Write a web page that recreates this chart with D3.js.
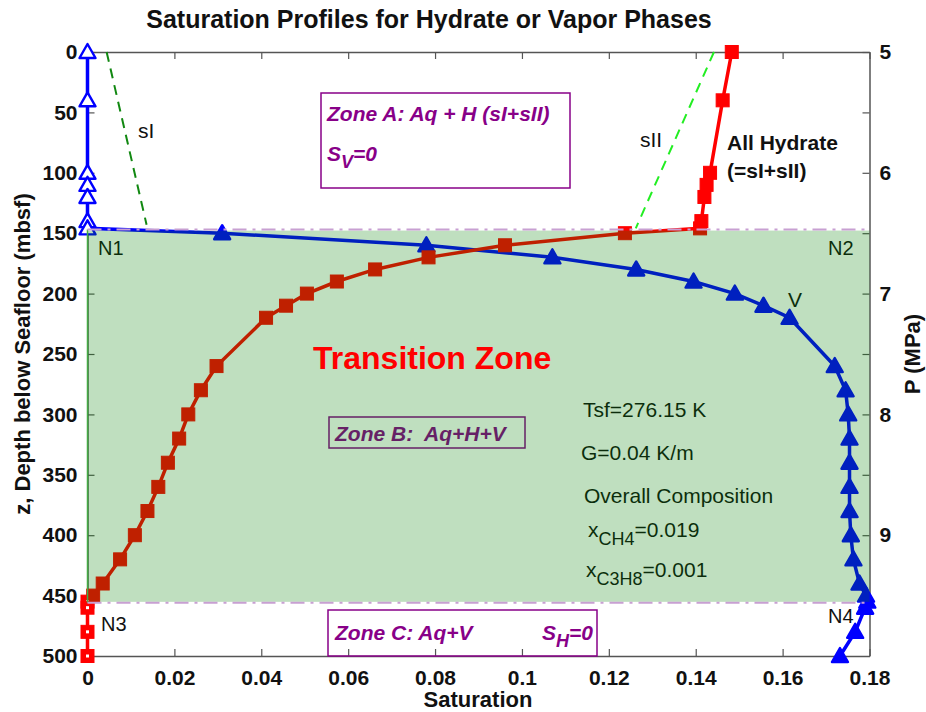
<!DOCTYPE html>
<html>
<head>
<meta charset="utf-8">
<script src="https://cdn.jsdelivr.net/npm/d3@7"></script>
<style>
  body { margin: 0; background: #fff; }
  text { font-family: "Liberation Sans", Arial, sans-serif; }
</style>
</head>
<body>
<svg id="chart" width="926" height="712"></svg>
<script>
// Depth grid (mbsf) shared by both profiles
var depthM = [0, 40, 100, 110, 120, 140, 146, 150, 160, 170, 180, 190, 200, 210, 220,
  260, 280, 300, 320, 340, 360, 380, 400, 420, 440, 450, 455, 460, 480, 500];
// Hydrate saturation (sI+sII)
var satHydrate = [0.1483, 0.1462, 0.1433, 0.1425, 0.1420, 0.1413, 0.1410, 0.1237, 0.0961, 0.0785,
  0.0662, 0.0574, 0.0505, 0.0457, 0.0411, 0.0297, 0.0261, 0.0232, 0.0211, 0.0185,
  0.0163, 0.0138, 0.0109, 0.0075, 0.0035, 0.0013, 0, 0, 0, 0];
// Vapor saturation
var satVapor = [0, 0, 0, 0, 0, 0, 0, 0.031, 0.078, 0.107, 0.1263, 0.1395, 0.149, 0.1556, 0.1616,
  0.172, 0.1745, 0.1751, 0.1754, 0.1754, 0.1754, 0.1754, 0.1757, 0.1763, 0.1777,
  0.1792, 0.1795, 0.179, 0.1767, 0.1732];
// sI and sII dashed lines
var satSI = [0.0044, 0.0136], depthSI = [0, 143];
var satSII = [0.1442, 0.1262], depthSII = [0, 146];
// transition zone boundaries (mbsf)
var zoneBounds = [147, 456];

var depthTicks = d3.range(0, 501, 50);
var satTicks = [0, 0.02, 0.04, 0.06, 0.08, 0.1, 0.12, 0.14, 0.16, 0.18];
var pTicks = d3.range(5, 9.6, 0.5);

var svg = d3.select('#chart');
var plotLeft = 87.5, plotRight = 869.5, plotTop = 52, plotBottom = 656;

var x = d3.scaleLinear().domain([0, 0.18]).range([plotLeft, plotRight]);
var y = d3.scaleLinear().domain([0, 500]).range([plotTop, plotBottom]);
var yP = d3.scaleLinear().domain([5, 10]).range([plotTop, plotBottom]);

var axisColor = '#555';

// title
svg.append('text').attr('x', 429).attr('y', 28).attr('text-anchor', 'middle')
  .style('font-size', '25px').style('font-weight', 'bold').attr('fill', '#111')
  .text('Saturation Profiles for Hydrate or Vapor Phases');

// axes
function styleAxis(g) {
  g.selectAll('path').attr('stroke', axisColor).attr('stroke-width', 1.5);
  g.selectAll('line').attr('stroke', axisColor).attr('stroke-width', 1.2);
  g.selectAll('text').attr('fill', '#111').style('font-size', '21px').style('font-weight', 'bold')
    .style('font-family', '"Liberation Sans", Arial, sans-serif');
}

svg.append('g').attr('transform', 'translate(0,' + plotBottom + ')')
  .call(d3.axisBottom(x).tickValues(satTicks).tickSize(-7).tickSizeOuter(0).tickPadding(14)
    .tickFormat(function(d) { return d === 0 ? '0' : d3.format('~g')(d); }))
  .call(styleAxis);
svg.append('g').attr('transform', 'translate(0,' + plotTop + ')')
  .call(d3.axisTop(x).tickValues(satTicks).tickSize(-7).tickSizeOuter(0).tickFormat(''))
  .call(styleAxis);
svg.append('g').attr('transform', 'translate(' + plotLeft + ',0)')
  .call(d3.axisLeft(y).tickValues(depthTicks).tickSize(-7).tickSizeOuter(0).tickPadding(10))
  .call(styleAxis);
svg.append('g').attr('transform', 'translate(' + plotRight + ',0)')
  .call(d3.axisRight(yP).tickValues(pTicks).tickSize(-7).tickSizeOuter(0).tickPadding(10)
    .tickFormat(function(d) { return d % 1 === 0 ? d : ''; }))
  .call(styleAxis);

// axis labels
svg.append('text').attr('x', 478).attr('y', 707).attr('text-anchor', 'middle')
  .style('font-size', '22px').style('font-weight', 'bold').attr('fill', '#111').text('Saturation');
svg.append('text').attr('transform', 'translate(30,' + (plotTop + plotBottom) / 2 + ') rotate(-90)')
  .attr('text-anchor', 'middle').style('font-size', '22px').style('font-weight', 'bold')
  .attr('fill', '#111').text('z, Depth below Seafloor (mbsf)');
svg.append('text').attr('transform', 'translate(920,' + (plotTop + plotBottom) / 2 + ') rotate(-90)')
  .attr('text-anchor', 'middle').style('font-size', '22px').style('font-weight', 'bold')
  .attr('fill', '#111').text('P (MPa)');

// sI / sII dashed lines
var pairLine = d3.line().x(function(d) { return x(d[0]); }).y(function(d) { return y(d[1]); });
svg.append('path').attr('d', pairLine(d3.zip(satSI, depthSI)))
  .attr('fill', 'none').attr('stroke', '#118811').attr('stroke-width', 2).attr('stroke-dasharray', '10,7');
svg.append('path').attr('d', pairLine(d3.zip(satSII, depthSII)))
  .attr('fill', 'none').attr('stroke', '#22ee22').attr('stroke-width', 2).attr('stroke-dasharray', '10,7');

// profiles
var hydratePts = d3.zip(satHydrate, depthM);
var vaporPts = d3.zip(satVapor, depthM);

svg.append('path').attr('d', pairLine(vaporPts)).attr('fill', 'none')
  .attr('stroke', '#0000ff').attr('stroke-width', 3.5);
svg.append('path').attr('d', pairLine(hydratePts)).attr('fill', 'none')
  .attr('stroke', '#ff0000').attr('stroke-width', 3.5);

svg.append('g').selectAll('path').data(vaporPts).enter().append('path')
  .attr('transform', function(d) { return 'translate(' + x(d[0]) + ',' + y(d[1]) + ')'; })
  .attr('d', 'M0,-8L8,6L-8,6Z')
  .attr('fill', function(d) { return d[0] === 0 ? '#fff' : '#0000ff'; })
  .attr('stroke', '#0000ff').attr('stroke-width', 2.4).attr('stroke-linejoin', 'round');

var sq = svg.append('g').selectAll('g').data(hydratePts).enter().append('g')
  .attr('transform', function(d) { return 'translate(' + x(d[0]) + ',' + y(d[1]) + ')'; });
sq.append('rect').attr('x', -6.5).attr('y', -6.5).attr('width', 13).attr('height', 13)
  .attr('fill', '#ff0000').attr('stroke', '#ff0000').attr('stroke-width', 1);
// open markers in zone C show a small white centre
sq.filter(function(d) { return d[0] === 0; }).append('rect')
  .attr('x', -1.5).attr('y', -1.5).attr('width', 3).attr('height', 3).attr('fill', '#fff');

// text below the green overlay
function label(tx, ty, str, size, opts) {
  var t = svg.append('text').attr('x', tx).attr('y', ty)
    .style('font-size', size + 'px').attr('fill', (opts && opts.fill) || '#111');
  if (opts && opts.bold) t.style('font-weight', 'bold');
  if (opts && opts.italic) t.style('font-style', 'italic');
  t.text(str);
  return t;
}
label(98, 255, 'N1', 20);
label(828, 255, 'N2', 20);
label(101, 631, 'N3', 20);
label(828, 623, 'N4', 20);
label(788, 307, 'V', 21);
label(583, 417, 'Tsf=276.15 K', 21);
label(581, 460, 'G=0.04 K/m', 21);
label(584, 503, 'Overall Composition', 21);

var xc = label(588, 537, 'x', 21);
xc.append('tspan').attr('dy', 8).style('font-size', '18px').text('CH4');
xc.append('tspan').attr('dy', -8).text('=0.019');
var xp = label(586, 577, 'x', 21);
xp.append('tspan').attr('dy', 8).style('font-size', '18px').text('C3H8');
xp.append('tspan').attr('dy', -8).text('=0.001');

// Zone B box
var purple = '#880088';
svg.append('rect').attr('x', 329).attr('y', 417).attr('width', 196).attr('height', 31)
  .attr('fill', 'none').attr('stroke', purple).attr('stroke-width', 1.5);
label(335, 441, 'Zone B:  Aq+H+V', 21, { fill: purple, bold: true, italic: true })
  .style('white-space', 'pre');

// transition zone overlay
svg.append('rect').attr('x', plotLeft).attr('y', y(zoneBounds[0]) + 1)
  .attr('width', plotRight - plotLeft).attr('height', y(zoneBounds[1]) - y(zoneBounds[0]) - 2)
  .attr('fill', '#008000').attr('fill-opacity', 0.25);
svg.append('line').attr('x1', plotLeft).attr('x2', plotLeft)
  .attr('y1', y(zoneBounds[0])).attr('y2', y(zoneBounds[1]))
  .attr('stroke', '#44aa44').attr('stroke-width', 1.5);

svg.append('g').selectAll('line').data(zoneBounds).enter().append('line')
  .attr('x1', plotLeft).attr('x2', plotRight)
  .attr('y1', function(d) { return y(d); }).attr('y2', function(d) { return y(d); })
  .attr('stroke', '#c8a0d2').attr('stroke-width', 2).attr('stroke-dasharray', '14,6,3,6');

// text above the overlay
label(313, 369, 'Transition Zone', 32, { fill: '#ff0000', bold: true });

svg.append('rect').attr('x', 321).attr('y', 93).attr('width', 249).attr('height', 95)
  .attr('fill', 'none').attr('stroke', purple).attr('stroke-width', 1.5);
label(327, 121, 'Zone A: Aq + H (sI+sII)', 21, { fill: purple, bold: true, italic: true });
var sv = label(327, 161, 'S', 21, { fill: purple, bold: true, italic: true });
sv.append('tspan').attr('dy', 7).style('font-size', '18px').text('V');
sv.append('tspan').attr('dy', -7).text('=0');

svg.append('rect').attr('x', 328).attr('y', 610).attr('width', 269).attr('height', 46)
  .attr('fill', 'none').attr('stroke', purple).attr('stroke-width', 1.5);
label(335, 640, 'Zone C: Aq+V', 21, { fill: purple, bold: true, italic: true });
var sh = label(542, 640, 'S', 21, { fill: purple, bold: true, italic: true });
sh.append('tspan').attr('dy', 7).style('font-size', '18px').text('H');
sh.append('tspan').attr('dy', -7).text('=0');

label(138, 138, 'sI', 21);
label(640, 147, 'sII', 21);
label(727, 150, 'All Hydrate', 21, { bold: true });
label(727, 178, '(=sI+sII)', 21, { bold: true });
</script>
</body>
</html>
